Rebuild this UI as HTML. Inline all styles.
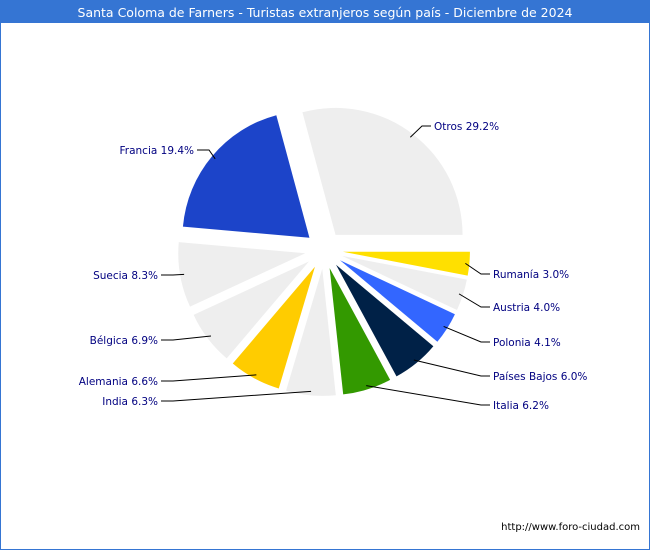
<!DOCTYPE html>
<html><head><meta charset="utf-8"><style>
body{margin:0;background:#fff;}
#wrap{position:relative;width:648px;height:548px;border:1px solid #3575d3;background:#fff;overflow:hidden;font-family:"DejaVu Sans","Liberation Sans",sans-serif;}
#title{position:absolute;left:0;top:0;width:648px;height:22px;background:#3575d3;color:#fff;font-size:12.5px;line-height:23px;text-align:center;}
#foot{position:absolute;right:9px;top:521px;font-size:10px;color:#000;}
svg{position:absolute;left:0;top:0;}
</style></head><body>
<div id="wrap">
<div id="title">Santa Coloma de Farners - Turistas extranjeros según país - Diciembre de 2024</div>
<svg id="pie" width="648" height="548"></svg>
<div id="foot">http://www.foro-ciudad.com</div>
</div>
<script>
const categories=["Rumanía","Austria","Polonia","Países Bajos","Italia","India","Alemania","Bélgica","Suecia","Francia","Otros"];
const values=[3.0,4.0,4.1,6.0,6.2,6.3,6.6,6.9,8.3,19.4,29.2];
const colors=["#ffe000","#eeeeee","#3366ff","#002147","#339900","#eeeeee","#ffcc00","#eeeeee","#eeeeee","#1c44c9","#eeeeee"];
// label anchor layout: [textX, textY, side]
const labelPos=[[492,273,1],[492,306,1],[492,341,1],[492,375,1],[492,404,1],[157,400,-1],[157,380,-1],[157,339,-1],[157,274,-1],[193,149,-1],[433,125,1]];
const svg=document.getElementById('pie');
const NS='http://www.w3.org/2000/svg';
const cx=323,cy=249,R=127,ex=19;
const total=values.reduce((a,b)=>a+b,0);
let a0=0;
values.forEach((v,i)=>{
  const sweep=v/total*2*Math.PI;
  const a1=a0+sweep, am=a0+sweep/2;
  const ox=cx+ex*Math.cos(am), oy=cy+ex*Math.sin(am);
  const x0=ox+R*Math.cos(a0), y0=oy+R*Math.sin(a0);
  const x1=ox+R*Math.cos(a1), y1=oy+R*Math.sin(a1);
  const p=document.createElementNS(NS,'path');
  p.setAttribute('d',`M${ox},${oy}L${x0},${y0}A${R},${R} 0 ${sweep>Math.PI?1:0} 1 ${x1},${y1}Z`);
  p.setAttribute('fill',colors[i]);
  
  
  svg.appendChild(p);
  const lp=labelPos[i];
  const sx=ox+(R-4)*Math.cos(am), sy=oy+(R-4)*Math.sin(am);
  const ln=document.createElementNS(NS,'polyline');
  const elbowX=lp[2]>0?lp[0]-12:lp[0]+15;
  const endX=lp[2]>0?lp[0]-3:lp[0]+3;
  ln.setAttribute('points',`${sx},${sy} ${elbowX},${lp[1]} ${endX},${lp[1]}`);
  ln.setAttribute('fill','none');ln.setAttribute('stroke','#000');ln.setAttribute('stroke-width','1');
  
  
  svg.appendChild(ln);
  const t=document.createElementNS(NS,'text');
  t.setAttribute('x',lp[0]);t.setAttribute('y',lp[1]+4);
  t.setAttribute('text-anchor',lp[2]>0?'start':'end');
  t.setAttribute('font-size','10.5');t.setAttribute('fill','#000080');
  t.setAttribute('font-family','DejaVu Sans, Liberation Sans, sans-serif');
  t.textContent=categories[i]+' '+values[i].toFixed(1)+'%';
  
  
  svg.appendChild(t);
  a0=a1;
});
</script>
</body></html>
